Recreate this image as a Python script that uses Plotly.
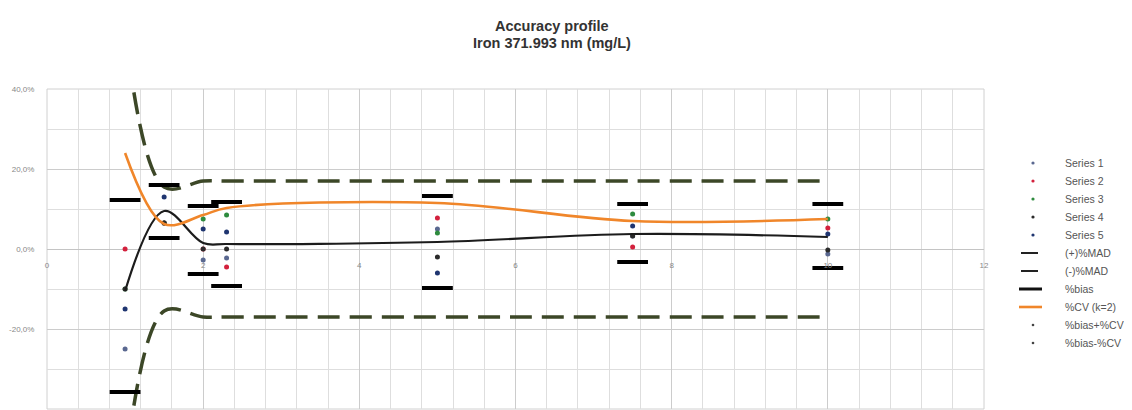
import plotly.graph_objects as go

# ---------------- data ----------------
levels = [1, 1.5, 2, 2.3, 5, 7.5, 10]

series1 = [-25.0, 6.5, -2.75, -2.25, 5.0, 3.25, -1.25]
series2 = [0.0, 6.5, 0.0, -4.5, 7.75, 0.5, 5.25]
series3 = [-10.0, 6.5, 7.5, 8.5, 4.0, 8.75, 7.5]
series4 = [-10.0, 6.5, 0.0, 0.0, -2.0, 3.25, -0.25]
series5 = [-15.0, 13.0, 5.0, 4.25, -6.0, 5.75, 3.75]

mad_plus = [55.0, 15.5, 17.0, 17.0, 17.0, 17.0, 17.0]
mad_minus = [-55.0, -15.5, -17.0, -17.0, -17.0, -17.0, -17.0]
bias = [-10.5, 9.5, 1.5, 1.25, 1.75, 3.75, 3.0]
cv_k2 = [24.0, 6.25, 8.5, 10.25, 11.5, 7.0, 7.5]
bias_plus_cv = [12.25, 16.0, 10.75, 11.75, 13.25, 11.25, 11.25]
bias_minus_cv = [-35.75, 2.75, -6.25, -9.25, -9.75, -3.25, -4.75]

y_tickvals = [-40, -20, 0, 20, 40]
y_ticktext = ["-40,0%", "-20,0%", "0,0%", "20,0%", "40,0%"]
x_tickvals = [0, 2, 4, 6, 8, 10, 12]

title_lines = ["Accuracy profile", "Iron 371.993 nm (mg/L)"]

series_names = ["Series 1", "Series 2", "Series 3", "Series 4", "Series 5"]
series_values = [series1, series2, series3, series4, series5]
series_colors = ["#5a6890", "#d3213d", "#2e8b3e", "#2b2b2b", "#1f3570"]

legend_labels = series_names + ["(+)%MAD", "(-)%MAD", "%bias", "%CV (k=2)",
                                "%bias+%CV", "%bias-%CV"]

FONT = "Liberation Sans, Arial, sans-serif"
MAD_COLOR = "#3c4727"
ORANGE = "#f0862a"

# page offset (body margin of the html page)
OFF = 8
W, H = 1132 - OFF, 410 - OFF
# plot area in page pixels
PL, PR, PT, PB = 47, 984, 89, 409

fig = go.Figure()

# individual series points (drawn first, lines on top as in the source)
for name, vals, col in zip(series_names, series_values, series_colors):
    fig.add_trace(go.Scatter(
        x=levels, y=vals, mode="markers", name=name, showlegend=False,
        marker=dict(symbol="circle", size=5, color=col)))

# dashed MAD limits
for vals, name in [(mad_plus, "(+)%MAD"), (mad_minus, "(-)%MAD")]:
    fig.add_trace(go.Scatter(
        x=levels, y=vals, mode="lines", name=name, showlegend=False,
        line=dict(color=MAD_COLOR, width=3.5, dash="22px,10px",
                  shape="spline", smoothing=1.0)))

# %bias and %CV curves
fig.add_trace(go.Scatter(
    x=levels, y=bias, mode="lines", name="%bias", showlegend=False,
    line=dict(color="#1c1c1c", width=2.2, shape="spline", smoothing=1.0)))
fig.add_trace(go.Scatter(
    x=levels, y=cv_k2, mode="lines", name="%CV (k=2)", showlegend=False,
    line=dict(color=ORANGE, width=2.6, shape="spline", smoothing=1.0)))

# %bias +/- %CV bars
for vals, name in [(bias_plus_cv, "%bias+%CV"), (bias_minus_cv, "%bias-%CV")]:
    fig.add_trace(go.Scatter(
        x=levels, y=vals, mode="markers", name=name, showlegend=False,
        marker=dict(symbol="line-ew", size=22, color="black",
                    line=dict(color="black", width=4))))


# ---------------- helpers: page pixels -> paper coords ----------------
def px2paper_x(px):
    return (px - PL) / (PR - PL)


def px2paper_y(py):
    return (PB - py) / (PB - PT)


shapes = []
annotations = []

# title (two bold lines)
for txt, ty in zip(title_lines, [26, 43]):
    annotations.append(dict(
        x=px2paper_x(552), y=px2paper_y(ty), xref="paper", yref="paper",
        text="<b>" + txt + "</b>", showarrow=False, xanchor="center",
        yanchor="middle",
        font=dict(family=FONT, size=14.5, color="#333333")))

# manual legend
legend_rows = [163, 181, 199, 217, 235, 253, 271, 289, 307, 325, 343]
for i, (lab, ry) in enumerate(zip(legend_labels, legend_rows)):
    yy = px2paper_y(ry)
    annotations.append(dict(
        x=px2paper_x(1063), y=yy, xref="paper", yref="paper",
        text=lab, showarrow=False, xanchor="left", yanchor="middle",
        font=dict(family=FONT, size=10.5, color="#555555")))
    if i < 5:
        r = 1.6
        cx = 1033
        shapes.append(dict(type="circle", xref="paper", yref="paper",
                           x0=px2paper_x(cx - r), x1=px2paper_x(cx + r),
                           y0=px2paper_y(ry + r), y1=px2paper_y(ry - r),
                           fillcolor=series_colors[i], line=dict(width=0)))
    elif lab in ("(+)%MAD", "(-)%MAD"):
        shapes.append(dict(type="line", xref="paper", yref="paper",
                           x0=px2paper_x(1021), x1=px2paper_x(1038),
                           y0=yy, y1=yy, line=dict(color="#222222", width=2)))
    elif lab == "%bias":
        shapes.append(dict(type="line", xref="paper", yref="paper",
                           x0=px2paper_x(1019), x1=px2paper_x(1042),
                           y0=yy, y1=yy, line=dict(color="#111111", width=3)))
    elif lab == "%CV (k=2)":
        shapes.append(dict(type="line", xref="paper", yref="paper",
                           x0=px2paper_x(1019), x1=px2paper_x(1042),
                           y0=yy, y1=yy, line=dict(color=ORANGE, width=2.6)))
    else:
        r = 1.3
        cx = 1033
        shapes.append(dict(type="circle", xref="paper", yref="paper",
                           x0=px2paper_x(cx - r), x1=px2paper_x(cx + r),
                           y0=px2paper_y(ry + r), y1=px2paper_y(ry - r),
                           fillcolor="#444444", line=dict(width=0)))

# plot-area border
shapes.append(dict(type="rect", xref="paper", yref="paper", x0=0, x1=1,
                   y0=0, y1=1, line=dict(color="#d0d0d0", width=1),
                   layer="below"))

fig.update_layout(
    width=W, height=H,
    margin=dict(l=PL - OFF, r=W - (PR - OFF), t=PT - OFF, b=H - (PB - OFF)),
    paper_bgcolor="white", plot_bgcolor="white",
    showlegend=False,
    font=dict(family=FONT),
    shapes=shapes,
    annotations=annotations,
    xaxis=dict(
        range=[0, 12], tickvals=x_tickvals, ticktext=[str(v) for v in x_tickvals],
        anchor="free", position=0.5, showline=False, zeroline=False,
        ticks="outside", ticklen=8, tickcolor="rgba(0,0,0,0)",
        tickfont=dict(family=FONT, size=8, color="#888888"),
        showgrid=True, gridcolor="#cccccc", gridwidth=1,
        minor=dict(dtick=0.4, tick0=0, showgrid=True, gridcolor="#dedede",
                   gridwidth=1, ticks=""),
    ),
    yaxis=dict(
        range=[-40, 40], tickvals=y_tickvals, ticktext=y_ticktext,
        showline=False, zeroline=True, zerolinecolor="#c4c4c4", zerolinewidth=1,
        ticks="outside", ticklen=10, tickcolor="rgba(0,0,0,0)",
        tickfont=dict(family=FONT, size=8, color="#888888"),
        showgrid=True, gridcolor="#cccccc", gridwidth=1,
        minor=dict(dtick=10, tick0=0, showgrid=True, gridcolor="#dedede",
                   gridwidth=1, ticks=""),
    ),
)

fig.write_html("out.html")
